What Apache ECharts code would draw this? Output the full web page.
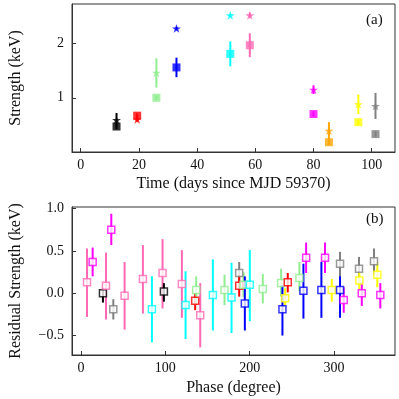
<!DOCTYPE html>
<html><head><meta charset="utf-8">
<script src="https://cdn.jsdelivr.net/npm/echarts@6/dist/echarts.min.js"></script>
<style>html,body{margin:0;padding:0;background:#fff}#c{width:399px;height:399px}</style>
</head><body><div id="c"></div>
<script>
// ---- Panel (a) data ----
const obsTime   = [12.3, 19.4, 26.0, 32.9, 51.4, 58.1, 80.0, 85.3, 95.4, 101.3];
const obsColor  = ['#000000','#ff0000','#90ee90','#0000ff','#00ffff','#ff69b4','#ff00ff','#ffa500','#ffff00','#808080'];
const sqVal     = [0.47, 0.67, 1.00, 1.56, 1.81, 1.97, 0.70, 0.18, 0.55, 0.33];
const sqErr     = [0.05, 0.04, 0.04, 0.18, 0.23, 0.22, 0.05, 0.05, 0.05, 0.05];
const starVal   = [0.59, 0.60, 1.46, 2.28, 2.52, 2.52, 1.15, 0.39, 0.88, 0.85];
const starErr   = [0.13, 0.04, 0.27, 0.03, 0.03, 0.05, 0.08, 0.16, 0.18, 0.24];
const xTicksA   = [0, 20, 40, 60, 80, 100];
const yTicksA   = [1, 2];

// ---- Panel (b) data ----
const phase   = [7.1, 13.8, 26.0, 29.6, 35.9, 38.3, 51.7, 73.4, 84.1, 96.7, 98.3, 119.6, 124.0, 135.4, 136.6, 141.4, 156.4, 170.2, 178.5, 187.6, 187.6, 192.7, 194.3, 200.2, 215.6, 237.3, 238.9, 242.1, 245.2, 259.0, 263.8, 267.0, 285.1, 289.4, 297.4, 307.2, 307.2, 311.6, 329.7, 330.1, 333.0, 347.5, 351.4, 355.0];
const resid   = [0.13, 0.37, 0.00, 0.09, 0.75, -0.19, -0.03, 0.17, -0.19, 0.24, 0.02, 0.11, -0.14, -0.09, 0.04, -0.26, -0.02, 0.04, -0.05, 0.24, 0.09, 0.10, -0.12, 0.10, 0.05, 0.12, -0.19, -0.06, 0.13, 0.18, 0.03, 0.42, 0.04, 0.42, 0.04, 0.04, 0.35, -0.08, 0.29, 0.15, 0.00, 0.38, 0.22, -0.02];
const residLo = [-0.28, 0.20, -0.11, -0.31, 0.57, -0.31, -0.43, -0.24, -0.58, -0.18, -0.10, -0.29, -0.54, -0.20, -0.14, -0.64, -0.44, -0.14, -0.47, 0.12, -0.04, -0.05, -0.44, -0.33, -0.12, -0.04, -0.50, -0.16, 0.01, 0.02, -0.30, 0.24, -0.29, 0.24, -0.10, -0.29, 0.20, -0.23, 0.14, 0.02, -0.15, 0.22, 0.07, -0.18];
const residHi = [0.53, 0.54, 0.06, 0.48, 0.94, -0.07, 0.37, 0.57, 0.20, 0.64, 0.12, 0.51, 0.26, 0.00, 0.20, 0.12, 0.40, 0.22, 0.36, 0.37, 0.22, 0.25, 0.20, 0.51, 0.23, 0.29, 0.10, 0.06, 0.24, 0.37, 0.35, 0.60, 0.37, 0.60, 0.17, 0.37, 0.49, 0.07, 0.43, 0.25, 0.13, 0.53, 0.37, 0.12];
const residObs = [5, 6, 0, 5, 6, 9, 5, 5, 4, 5, 0, 5, 4, 1, 2, 5, 4, 2, 4, 9, 1, 2, 3, 4, 2, 2, 3, 8, 1, 2, 3, 6, 3, 6, 8, 3, 9, 6, 9, 8, 6, 9, 8, 6];
const xTicksB = [0, 100, 200, 300];
const yTicksB = [-0.5, 0.0, 0.5, 1.0];

const FONT = 'Liberation Serif';
const STAR = 'path://M0,-10L2.245,-3.09L9.511,-3.09L3.633,1.18L5.878,8.09L0,3.82L-5.878,8.09L-3.633,1.18L-9.511,-3.09L-2.245,-3.09Z';

function errSeries(xi, yi, data, lw) {
  return {
    type: 'custom', xAxisIndex: xi, yAxisIndex: yi, silent: true,
    encode: {x: 0, y: [1, 2]},
    renderItem: function (params, api) {
      const x = api.value(0), lo = api.value(1), hi = api.value(2);
      const p1 = api.coord([x, lo]), p2 = api.coord([x, hi]);
      return {type: 'line', shape: {x1: p1[0], y1: p1[1], x2: p2[0], y2: p2[1]},
              style: {stroke: obsColor[api.value(3)], lineWidth: lw}};
    },
    data: data
  };
}

const errA = [];
const sqA = [], stA = [];
obsTime.forEach((t, i) => {
  errA.push([t, sqVal[i] - sqErr[i], sqVal[i] + sqErr[i], i]);
  errA.push([t, starVal[i] - starErr[i], starVal[i] + starErr[i], i]);
  sqA.push({value: [t, sqVal[i]], itemStyle: {color: obsColor[i]}});
  stA.push({value: [t, starVal[i]], itemStyle: {color: obsColor[i]}});
});
const errB = [], ptsB = [];
phase.forEach((p, i) => {
  errB.push([p, residLo[i], residHi[i], residObs[i]]);
  ptsB.push({value: [p, resid[i]], itemStyle: {color: '#ffffff', borderColor: obsColor[residObs[i]], borderWidth: 1.5}});
});

const axisTxt = {fontFamily: FONT, fontSize: 14, color: '#111'};
const nameTxt = {fontFamily: FONT, fontSize: 16, color: '#111'};
function xAx(gi, min, max, ticks, name, gap) {
  return {type: 'value', gridIndex: gi, min: min, max: max,
    name: name, nameLocation: 'middle', nameGap: gap, nameTextStyle: nameTxt,
    axisLine: {show: true, onZero: false, lineStyle: {color: '#333', width: 1}},
    axisTick: {show: true, inside: true, length: 4, customValues: ticks, lineStyle: {color: '#333'}},
    axisLabel: Object.assign({customValues: ticks, margin: 6}, axisTxt),
    splitLine: {show: false}};
}
function yAx(gi, min, max, ticks, name, gap, fmt) {
  return {type: 'value', gridIndex: gi, min: min, max: max,
    name: name, nameLocation: 'middle', nameGap: gap, nameRotate: 90, nameTextStyle: nameTxt,
    axisLine: {show: true, onZero: false, lineStyle: {color: '#333', width: 1}},
    axisTick: {show: true, inside: true, length: 4, customValues: ticks, lineStyle: {color: '#333'}},
    axisLabel: Object.assign({customValues: ticks, margin: 8, formatter: fmt}, axisTxt),
    splitLine: {show: false}};
}

const chart = echarts.init(document.getElementById('c'), null, {renderer: 'canvas'});
chart.setOption({
  animation: false,
  backgroundColor: '#fff',
  grid: [
    {left: 72, right: 4, top: 4, height: 148, show: true, borderColor: '#333', borderWidth: 1, backgroundColor: 'transparent'},
    {left: 72, right: 4, top: 207, height: 148, show: true, borderColor: '#333', borderWidth: 1, backgroundColor: 'transparent'}
  ],
  xAxis: [
    xAx(0, -3, 108, xTicksA, 'Time (days since MJD 59370)', 24),
    xAx(1, -10.7, 372.4, xTicksB, 'Phase (degree)', 25)
  ],
  yAxis: [
    yAx(0, 0.0, 2.73, yTicksA, 'Strength (keV)', 48, v => String(v)),
    yAx(1, -0.73, 1.02, yTicksB, 'Residual Strength (keV)', 48, v => v.toFixed(1).replace('-', '\u2212'))
  ],
  graphic: [
    {type: 'text', left: 366, top: 13, style: {text: '(a)', fontFamily: FONT, fontSize: 15, fill: '#111'}},
    {type: 'text', left: 366, top: 212, style: {text: '(b)', fontFamily: FONT, fontSize: 15, fill: '#111'}}
  ],
  series: [
    errSeries(0, 0, errA, 2),
    {type: 'scatter', xAxisIndex: 0, yAxisIndex: 0, symbol: 'rect', symbolSize: 8, data: sqA, silent: true, z: 3},
    {type: 'scatter', xAxisIndex: 0, yAxisIndex: 0, symbol: STAR, symbolKeepAspect: true, symbolSize: 9, data: stA, silent: true, z: 3},
    errSeries(1, 1, errB, 2),
    {type: 'scatter', xAxisIndex: 1, yAxisIndex: 1, symbol: 'rect', symbolSize: 7, data: ptsB, silent: true, z: 3}
  ]
});
</script>
</body></html>
